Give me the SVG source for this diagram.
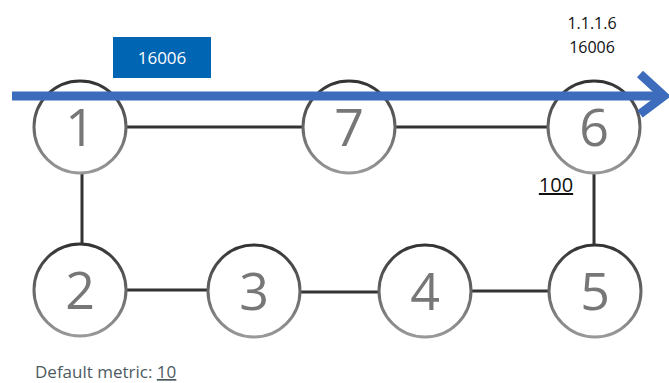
<svg xmlns="http://www.w3.org/2000/svg" width="669" height="383" viewBox="0 0 669 383">
<defs>
<linearGradient id="ring" x1="0" y1="0" x2="0" y2="1">
<stop offset="0" stop-color="#333"/>
<stop offset="1" stop-color="#999"/>
</linearGradient>
<style>
.node circle{fill:#fff;stroke:url(#ring);stroke-width:3}
.node text{font-family:"Open Sans","Liberation Sans",sans-serif;font-size:52px;fill:#777;text-anchor:middle}
.link{stroke:#333;stroke-width:3;fill:none}
.lbl{font-family:"Open Sans","Liberation Sans",sans-serif;font-size:16px;fill:#111;text-anchor:middle}
</style>
</defs>
<rect width="669" height="383" fill="#fff"/>
<g id="connectors">
<line class="link" x1="126" y1="127" x2="303" y2="127"/>
<line class="link" x1="396" y1="127" x2="548" y2="127"/>
<line class="link" x1="82" y1="173" x2="82" y2="244"/>
<line class="link" x1="594" y1="173" x2="594" y2="244"/>
<line class="link" x1="127" y1="290" x2="209" y2="290"/>
<line class="link" x1="299" y1="292" x2="380" y2="292"/>
<line class="link" x1="471" y1="291" x2="548" y2="291"/>
</g>
<g id="n1" class="node"><circle cx="80" cy="127" r="46"/><text x="80" y="146">1</text></g>
<g id="n7" class="node"><circle cx="349" cy="127" r="46"/><text x="349" y="146">7</text></g>
<g id="n6" class="node"><circle cx="594" cy="127" r="46"/><text x="594" y="146">6</text></g>
<g id="n2" class="node"><circle cx="80" cy="290" r="46"/><text x="80" y="309">2</text></g>
<g id="n3" class="node"><circle cx="254" cy="291" r="46"/><text x="254" y="310">3</text></g>
<g id="n4" class="node"><circle cx="425" cy="291" r="46"/><text x="425" y="310">4</text></g>
<g id="n5" class="node"><circle cx="595" cy="291" r="46"/><text x="595" y="310">5</text></g>
<g id="arrow">
<line x1="12" y1="96" x2="662" y2="96" stroke="#3d6cbd" stroke-width="9"/>
<polyline points="640,74 664,96 640,114" fill="none" stroke="#3d6cbd" stroke-width="9"/>
</g>
<g id="label-box">
<rect x="113" y="37" width="98" height="41" fill="#0065b3"/>
<text x="162" y="64" font-family="'Open Sans','Liberation Sans',sans-serif" font-size="17" fill="#fff" text-anchor="middle">16006</text>
</g>
<text class="lbl" x="592" y="29">1.1.1.6</text>
<text class="lbl" x="592" y="53">16006</text>
<text x="556" y="192" font-family="'Open Sans','Liberation Sans',sans-serif" font-size="20" fill="#111" text-anchor="middle" text-decoration="underline">100</text>
<text x="35" y="378" font-family="'Open Sans','Liberation Sans',sans-serif" font-size="17" fill="#4d5b60">Default metric: <tspan text-decoration="underline">10</tspan></text>
</svg>
